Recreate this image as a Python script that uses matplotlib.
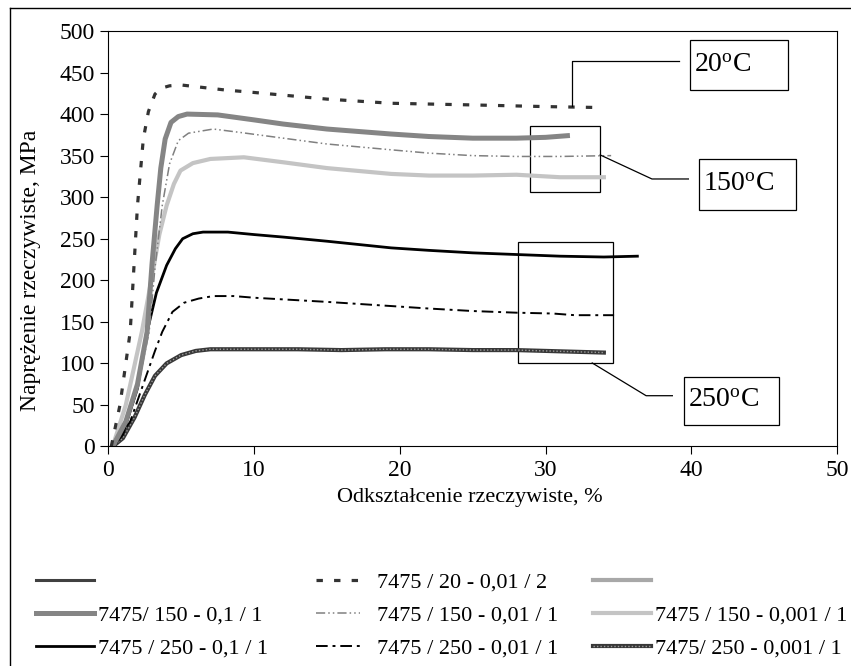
import matplotlib.pyplot as plt
from matplotlib.lines import Line2D
from matplotlib.patches import Rectangle

plt.rcParams['font.family'] = ['Liberation Serif', 'DejaVu Serif']
plt.rcParams['mathtext.fontset'] = 'custom'
plt.rcParams['mathtext.rm'] = 'Liberation Serif'

# odksztalcenie [%], naprezenie [MPa]
x_20_001 = [0.2, 0.8, 1.5, 2.0, 2.4, 2.75, 3.2, 3.6, 4.2, 5.0, 6.5, 8, 10, 12.5, 15, 19.4, 25, 30, 33.3]
y_20_001 = [0, 50, 138, 290, 370, 403, 424, 431, 434, 435, 432, 429, 426, 422, 418, 413, 411, 409, 408]

x_150_01 = [0.3, 1.2, 2.0, 2.66, 3.0, 3.35, 3.6, 3.9, 4.3, 4.8, 5.4, 7.5, 10, 12, 15, 19.4, 22, 25, 28, 30, 31.5]
y_150_01 = [0, 30, 75, 138, 220, 290, 335, 370, 390, 397, 400, 399, 393, 388, 382, 376, 373, 371, 371, 372, 374]

x_150_001 = [0.3, 1.2, 2.0, 2.8, 3.2, 3.7, 4.2, 4.8, 5.5, 7.2, 9, 12, 15, 19.4, 22, 25, 28, 31, 34.5]
y_150_001 = [0, 28, 70, 138, 215, 290, 340, 368, 377, 382, 378, 371, 364, 357, 353, 350, 349, 349, 350]

x_150_0001 = [0.3, 1.2, 2.3, 3.0, 3.5, 4.0, 4.5, 4.95, 5.8, 7, 9.3, 12, 15, 19.4, 22, 25, 28, 31, 34]
y_150_0001 = [0, 50, 138, 205, 255, 290, 316, 332, 341, 346, 348, 342, 335, 328, 326, 326, 327, 324, 324]

x_250_01 = [0.3, 1.0, 2.0, 2.66, 3.3, 4.0, 4.6, 5.1, 5.8, 6.5, 8.2, 10, 12, 15, 19.4, 22, 25, 28, 31, 34, 36.3]
y_250_01 = [0, 15, 70, 138, 185, 218, 238, 250, 256, 258, 258, 255, 252, 247, 239, 236, 233, 231, 229, 228, 229]

x_250_001 = [0.3, 1.5, 2.5, 3.2, 3.7, 4.4, 5.2, 6.2, 7.2, 8.6, 10, 12, 15, 19.4, 22, 25, 28, 30.5, 32, 34.7]
y_250_001 = [0, 30, 80, 115, 138, 162, 173, 178, 181, 181, 179, 177, 174, 169, 166, 163, 161, 160, 158, 158]

x_250_0001 = [0.3, 1.0, 1.8, 2.5, 3.2, 4.0, 5.0, 6.0, 7.0, 10, 13, 16, 19, 22, 25, 28, 30, 32, 34]
y_250_0001 = [0, 10, 35, 62, 85, 100, 110, 115, 117, 117, 117, 116, 117, 117, 116, 116, 115, 114, 113]

labels_col1 = ["", "7475/ 150 - 0,1 / 1", "7475 / 250 - 0,1 / 1"]
labels_col2 = ["7475 / 20 - 0,01 / 2", "7475 / 150 - 0,01 / 1", "7475 / 250 - 0,01 / 1"]
labels_col3 = ["", "7475 / 150 - 0,001 / 1", "7475/ 250 - 0,001 / 1"]

fig = plt.figure(figsize=(8.51, 6.66), dpi=100)
ax = fig.add_axes([0.1273, 0.3296, 0.8563, 0.6239])

# zewnetrzna ramka
fig.add_artist(Line2D([10/851, 10/851], [0, 1 - 8/666], color='black', lw=1))
fig.add_artist(Line2D([10/851, 1], [1 - 8/666, 1 - 8/666], color='black', lw=1))

st_20 = dict(color='#333333', lw=2.3, linestyle=(0, (2, 3.5)))
st_150a = dict(color='#858585', lw=3.6)
st_150b = dict(color='#808080', lw=1.1, linestyle=(0, (6, 2, 1, 2, 1, 2)))
st_150c = dict(color='#c4c4c4', lw=3.0)
st_250a = dict(color='black', lw=2.0)
st_250b = dict(color='black', lw=1.4, linestyle=(0, (6, 2.5, 1.5, 2.5)))
st_250c = dict(color='#383838', lw=3.0)
st_250c_tex = dict(color='#9a9a9a', lw=1.0, linestyle=(0, (1, 1.5)))

ax.plot(x_250_0001, y_250_0001, **st_250c)
ax.plot(x_250_0001, y_250_0001, **st_250c_tex)
ax.plot(x_250_001, y_250_001, **st_250b)
ax.plot(x_250_01, y_250_01, **st_250a)
ax.plot(x_150_0001, y_150_0001, **st_150c)
ax.plot(x_150_001, y_150_001, **st_150b)
ax.plot(x_150_01, y_150_01, **st_150a)
ax.plot(x_20_001, y_20_001, **st_20)

ax.set_xlim(0, 50)
ax.set_ylim(0, 500)
ax.set_xticks(range(0, 51, 10))
ax.set_yticks(range(0, 501, 50))
ax.tick_params(direction='out', length=6, width=0.8, labelsize=17, top=False, right=False)
for s in ax.spines.values():
    s.set_linewidth(0.8)

ax.set_xlabel("Odkształcenie rzeczywiste, %", fontsize=16)
ax.set_ylabel("Naprężenie rzeczywiste, MPa", fontsize=17)
ax.xaxis.set_label_coords(0.496, -0.099)
ax.yaxis.set_label_coords(-0.093, 0.425)

# prostokaty i opisy temperatur
ax.add_patch(Rectangle((28.9, 306.6), 4.85, 79.4, fill=False, lw=0.9, ec='black'))
ax.add_patch(Rectangle((28.14, 100), 6.46, 146, fill=False, lw=0.9, ec='black'))
ax.plot([31.8, 31.8, 39.17], [409.7, 464.3, 464.3], color='black', lw=0.9)
ax.plot([33.75, 37.3, 39.8], [350.8, 321.9, 321.9], color='black', lw=0.9)
ax.plot([33.2, 36.9, 38.7], [100.5, 61.1, 61.1], color='black', lw=0.9)

boxes = [((39.9, 429), 6.75, 60, r"$\mathregular{20^oC}$"),
         ((40.5, 284.6), 6.7, 61.4, r"$\mathregular{150^oC}$"),
         ((39.5, 25.9), 6.5, 58.1, r"$\mathregular{250^oC}$")]
for (bx, by), bw, bh, txt in boxes:
    ax.add_patch(Rectangle((bx, by), bw, bh, fill=False, lw=0.9, ec='black', clip_on=False))
    ax.text(bx + 0.3, by + bh / 2, txt, fontsize=20, va='center', ha='left')

# legenda w trzech kolumnach
h_col1 = [Line2D([], [], color='#404040', lw=2.2), Line2D([], [], **st_150a), Line2D([], [], **st_250a)]
h_col2 = [Line2D([], [], **st_20), Line2D([], [], **st_150b), Line2D([], [], **st_250b)]
h_col3 = [Line2D([], [], color='#a8a8a8', lw=3.0), Line2D([], [], **st_150c),
          (Line2D([], [], **st_250c), Line2D([], [], **st_250c_tex))]

leg_kw = dict(loc='upper left', frameon=False, fontsize=16, borderpad=0, borderaxespad=0,
              labelspacing=0.56)
fig.legend(h_col1, labels_col1, bbox_to_anchor=(0.042, 0.141), handlelength=2.6, handletextpad=0.18, **leg_kw)
fig.legend(h_col2, labels_col2, bbox_to_anchor=(0.371, 0.141), handlelength=2.0, handletextpad=0.75, **leg_kw)
fig.legend(h_col3, labels_col3, bbox_to_anchor=(0.697, 0.141), handlelength=2.6, handletextpad=0.2, **leg_kw)

fig.savefig("out.png", dpi=100)
